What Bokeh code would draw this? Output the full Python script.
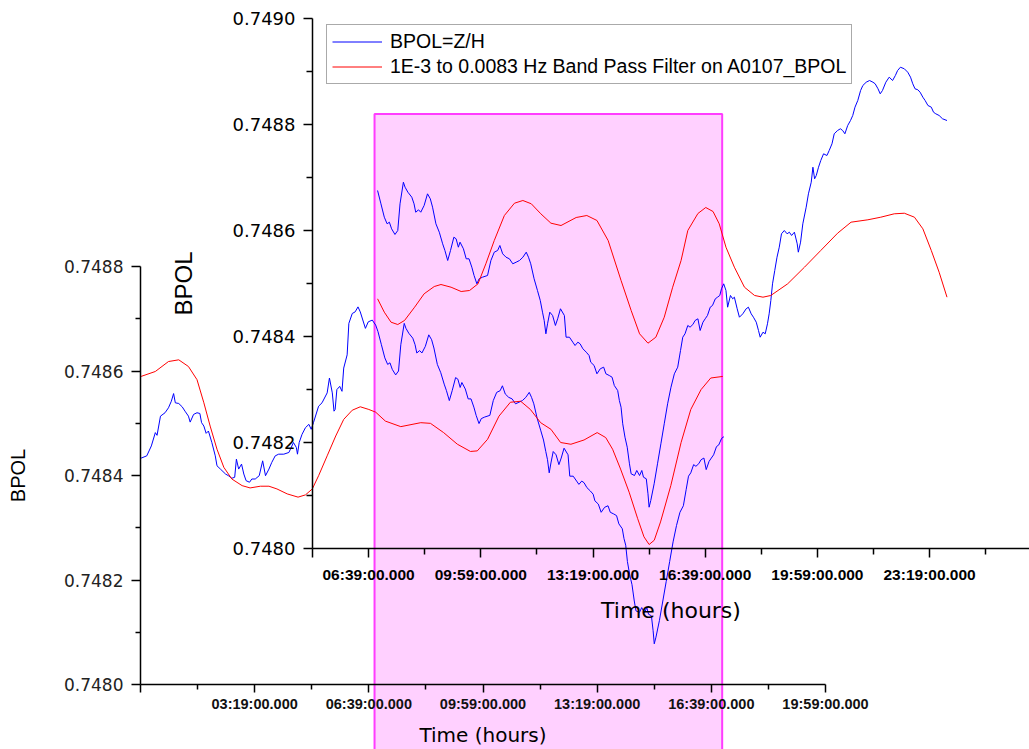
from bokeh.plotting import figure
from bokeh.models import (Range1d, FixedTicker, PrintfTickFormatter, BoxAnnotation,
                          Legend, LegendItem, GridBox)
from bokeh.embed import file_html
from bokeh.resources import INLINE

# ---------------- data (time in minutes, BPOL values) ----------------
blue_time = [0, 10, 18, 25, 28, 34, 42, 48, 53, 57, 60, 66, 72, 77, 83, 86, 92, 98, 103, 106,
             110, 114, 118, 124, 130, 133, 139, 148, 153, 159, 164, 167, 171, 176, 180, 184, 190, 194, 200, 207,
             213, 218, 224, 229, 235, 241, 250, 259, 267, 272, 274, 277, 282, 288, 294, 298, 302, 311, 317, 326,
             330, 335, 338, 340, 343, 348, 352, 355, 361, 364, 370, 375, 380, 384, 393, 398, 405, 411,
             415, 421, 427, 432, 436, 440, 446, 451, 455, 461, 464, 469, 476, 480, 483, 488, 492, 498,
             504, 509, 513, 519, 525, 531, 535, 540, 545, 551, 555, 559, 562, 568, 573, 578, 583, 587,
             592, 596, 602, 611, 617, 623, 629, 633, 638, 644, 650, 656, 662, 668, 674, 680, 684, 688,
             694, 700, 705, 709, 712, 715, 718, 722, 727, 732, 736, 741, 748, 751, 757, 763, 767, 772,
             776, 781, 787, 792, 795, 801, 806, 812, 818, 822, 828, 833, 837, 843, 846, 849, 852, 856,
             860, 864, 867, 873, 877, 882, 886, 889, 894, 897, 899, 902, 908, 914, 920, 926, 932, 938,
             944, 950, 955, 959, 963, 968, 972, 977, 981, 986, 990, 995, 999, 1003, 1008, 1012, 1017,
             1021, 1025, 1028, 1032, 1036, 1039, 1044, 1048, 1051, 1056, 1060, 1066, 1072, 1076, 1081,
             1085, 1090, 1094, 1097, 1102, 1106, 1110, 1113, 1116, 1119, 1123, 1127, 1131, 1135, 1140,
             1145, 1149, 1153, 1158, 1163, 1165, 1169, 1173, 1179, 1183, 1188, 1191, 1194, 1197, 1201,
             1205, 1210, 1216, 1220, 1225, 1229, 1235, 1240, 1244, 1248, 1253, 1258, 1262, 1266, 1271,
             1276, 1280, 1286, 1292, 1298, 1302, 1307, 1311, 1315, 1321, 1327, 1333, 1338, 1342, 1347,
             1354, 1360, 1365, 1369, 1373, 1378, 1382, 1387, 1391, 1396, 1402, 1406, 1410, 1416, 1422,
             1430]
blue_value = [0.7484332, 0.7484376, 0.7484566, 0.7484821, 0.7484769, 0.7485136, 0.7485201, 0.7485296,
              0.7485421, 0.7485568, 0.7485391, 0.7485378, 0.7485315, 0.7485231, 0.7485136, 0.7485022,
              0.7485169, 0.7485201, 0.7485187, 0.7485011, 0.7484946, 0.7484807, 0.7484851, 0.7484631,
              0.7484376, 0.7484186, 0.7484123, 0.7484028, 0.7483996, 0.7483947, 0.7483966, 0.7484313,
              0.7484123, 0.7484218, 0.7484028, 0.7483901, 0.7483871, 0.7483933, 0.7483933, 0.7483996,
              0.7484281, 0.7483996, 0.7484123, 0.7484251, 0.7484376, 0.7484408, 0.7484408, 0.7484441,
              0.7484631, 0.7484536, 0.7484408, 0.7484631, 0.7484788, 0.7484916, 0.7484979, 0.7484884,
              0.7485011, 0.7485326, 0.7485391, 0.7485581, 0.7485866, 0.7485581, 0.7485231, 0.7485264,
              0.7485644, 0.7485706, 0.7485611, 0.7486056, 0.7486309, 0.7486911, 0.7487101, 0.7487131,
              0.7487227, 0.7487131, 0.7486816, 0.7486941, 0.7486974, 0.7486879,
              0.7486755, 0.7486503, 0.7486251, 0.7486126, 0.7486157, 0.7486032, 0.7485925, 0.7486000,
              0.7486503, 0.7486911, 0.7486817, 0.7486723, 0.7486628, 0.7486503, 0.7486345, 0.7486390,
              0.7486345, 0.7486472, 0.7486692, 0.7486598, 0.7486440, 0.7486126, 0.7485968, 0.7485749,
              0.7485623, 0.7485434, 0.7485623, 0.7485874, 0.7485843, 0.7485685, 0.7485780, 0.7485655,
              0.7485466, 0.7485466, 0.7485308, 0.7485151, 0.7484994, 0.7485089, 0.7485119, 0.7485151,
              0.7485434, 0.7485591, 0.7485623, 0.7485717, 0.7485560, 0.7485496, 0.7485466, 0.7485372,
              0.7485402, 0.7485434, 0.7485496, 0.7485591, 0.7485496, 0.7485372, 0.7485089, 0.7484868,
              0.7484679, 0.7484459, 0.7484302, 0.7484051, 0.7484240, 0.7484459, 0.7484396, 0.7484208,
              0.7484334, 0.7484523, 0.7484396, 0.7483987, 0.7483987, 0.7483893, 0.7483830, 0.7483893,
              0.7483862, 0.7483768, 0.7483704, 0.7483642, 0.7483515, 0.7483453, 0.7483296, 0.7483391,
              0.7483421, 0.7483296, 0.7483264, 0.7483232, 0.7483075, 0.7482981, 0.7482792, 0.7482666,
              0.7482353, 0.7482100, 0.7481911, 0.7481598, 0.7481409, 0.7481377, 0.7481472, 0.7481377,
              0.7481472, 0.7481345, 0.7481315, 0.7481032, 0.7480779, 0.7480906, 0.7481221, 0.7481598,
              0.7481975, 0.7482353, 0.7482730, 0.7483043, 0.7483296, 0.7483421, 0.7483736, 0.7483987,
              0.7484051, 0.7484208, 0.7484176, 0.7484226, 0.7484302, 0.7484334, 0.7484113, 0.7484270,
              0.7484334, 0.7484396, 0.7484553, 0.7484585, 0.7484711, 0.7484742, 0.7484774, 0.7484900,
              0.7484994, 0.7484868, 0.7484553, 0.7484774, 0.7484711, 0.7484742, 0.7484523, 0.7484364,
              0.7484428, 0.7484523, 0.7484553, 0.7484428, 0.7484364, 0.7484270, 0.7484113, 0.7483987,
              0.7484081, 0.7484051, 0.7484240, 0.7484428, 0.7484679, 0.7484994, 0.7485245, 0.7485496,
              0.7485685, 0.7485938, 0.7486000, 0.7485938, 0.7485968, 0.7485906, 0.7485968, 0.7485749,
              0.7485591, 0.7485780, 0.7486126, 0.7486440, 0.7486692, 0.7486911, 0.7487194, 0.7486975,
              0.7487038, 0.7487194, 0.7487321, 0.7487447, 0.7487415, 0.7487509, 0.7487636, 0.7487825,
              0.7487887, 0.7487919, 0.7487887, 0.7487825, 0.7487981, 0.7488075, 0.7488170, 0.7488327,
              0.7488453, 0.7488642, 0.7488736, 0.7488798, 0.7488830, 0.7488798, 0.7488768, 0.7488674,
              0.7488579, 0.7488642, 0.7488798, 0.7488893, 0.7488830, 0.7488925, 0.7489019, 0.7489081,
              0.7489051, 0.7488987, 0.7488893, 0.7488768, 0.7488674, 0.7488655, 0.7488610, 0.7488515,
              0.7488453, 0.7488359, 0.7488327, 0.7488232, 0.7488202, 0.7488170, 0.7488108, 0.7488075]

# band-pass filtered series on the early segment (back plot)
red_back_time = [0, 25, 48, 66, 83, 98, 110, 121, 133, 145, 159, 177, 191, 209, 224, 238, 256, 275,
                 288, 300, 311, 326, 341, 355, 370, 384, 399, 411, 428, 455, 490, 507, 530, 554, 577,
                 589, 607, 627, 647, 665, 682, 700, 718, 735, 753, 776, 799, 814, 826, 840, 855, 870,
                 881, 890, 899, 910, 928, 946, 963, 981, 998, 1019]
red_back_value = [0.7485896, 0.7485991, 0.7486181, 0.7486214, 0.7486086, 0.7485834, 0.7485391,
                  0.7484946, 0.7484503, 0.7484156, 0.7483933, 0.7483806, 0.7483762, 0.7483795,
                  0.7483795, 0.7483743, 0.7483648, 0.7483586, 0.7483629, 0.7483743, 0.7483996,
                  0.7484376, 0.7484756, 0.7485074, 0.7485250, 0.7485315, 0.7485264, 0.7485212,
                  0.7485041, 0.7484935, 0.7485011, 0.7484998, 0.7484821, 0.7484599, 0.7484460,
                  0.7484471, 0.7484693, 0.7485136, 0.7485402, 0.7485421, 0.7485264, 0.7485011,
                  0.7484884, 0.7484631, 0.7484598, 0.7484680, 0.7484821, 0.7484726, 0.7484503,
                  0.7484123, 0.7483681, 0.7483173, 0.7482826, 0.7482679, 0.7482761, 0.7483111,
                  0.7483806, 0.7484631, 0.7485264, 0.7485644, 0.7485866, 0.7485896]

# band-pass filtered series on the late segment (front plot)
red_front_time = [415, 427, 439, 451, 463, 481, 498, 516, 528, 546, 564, 579, 594, 608, 623, 641,
                  659, 674, 689, 706, 724, 742, 769, 788, 806, 826, 849, 867, 882, 897, 911, 926,
                  941, 956, 968, 986, 1000, 1013, 1024, 1036, 1051, 1069, 1087, 1102, 1116, 1146,
                  1176, 1205, 1235, 1259, 1289, 1312, 1336, 1354, 1372, 1387, 1402, 1416, 1430]
red_front_value = [0.7484711, 0.7484459, 0.7484270, 0.7484226, 0.7484302, 0.7484553, 0.7484806,
                   0.7484943, 0.7484981, 0.7484930, 0.7484849, 0.7484868, 0.7484994, 0.7485372,
                   0.7485811, 0.7486283, 0.7486515, 0.7486566, 0.7486504, 0.7486315, 0.7486138,
                   0.7486094, 0.7486245, 0.7486283, 0.7486189, 0.7485811, 0.7485057, 0.7484491,
                   0.7484051, 0.7483874, 0.7483987, 0.7484364, 0.7484930, 0.7485434, 0.7486000,
                   0.7486321, 0.7486434, 0.7486358, 0.7486126, 0.7485685, 0.7485308, 0.7484930,
                   0.7484774, 0.7484742, 0.7484774, 0.7484994, 0.7485308, 0.7485623, 0.7485949,
                   0.7486157, 0.7486202, 0.7486251, 0.7486315, 0.7486326, 0.7486251, 0.7486032,
                   0.7485623, 0.7485213, 0.7484742]

BACK_SEGMENT_END = 1022     # last minute shown by the back plot
FRONT_SEGMENT_START = 415   # first minute shown by the front plot
HIGHLIGHT_START = 409       # highlighted window (minutes)
HIGHLIGHT_END = 1018
HIGHLIGHT_TOP = 0.74882

back_x_ticks = [-1, 199, 399, 599, 799, 999, 1199]
back_x_labels = ["", "03:19:00.000", "06:39:00.000", "09:59:00.000", "13:19:00.000",
                 "16:39:00.000", "19:59:00.000"]
back_x_minor = [99, 299, 499, 699, 899, 1099]
front_x_ticks = [299, 399, 599, 799, 999, 1199, 1399]
front_x_labels = ["", "06:39:00.000", "09:59:00.000", "13:19:00.000", "16:39:00.000",
                  "19:59:00.000", "23:19:00.000"]
front_x_minor = [499, 699, 899, 1099, 1299, 1499]
back_y_ticks = [0.7480, 0.7482, 0.7484, 0.7486, 0.7488]
back_y_minor = [0.7481, 0.7483, 0.7485, 0.7487]
front_y_ticks = [0.7480, 0.7482, 0.7484, 0.7486, 0.7488, 0.7490]
front_y_minor = [0.7481, 0.7483, 0.7485, 0.7487, 0.7489]

legend_labels = ["BPOL=Z/H", "1E-3 to 0.0083 Hz Band Pass Filter on A0107_BPOL"]

# ---------------- layout ----------------
W, H = 1029, 749
B_L, B_R, B_T, B_B = 140, 825, 266, 687       # back frame (canvas px)
F_L, F_R, F_T, F_B = 312, 1029, 18, 548       # front frame (canvas px)
FRONT_PX_PER_MIN = 0.561

BLUE = "#0000FF"
RED = "#FF0000"


def base_fig(xr, yr, left, right, top, bottom, transparent=True, axes=True):
    kw = {}
    if not axes:
        kw = dict(x_axis_type=None, y_axis_type=None)
    p = figure(width=W, height=H, x_range=xr, y_range=yr, output_backend="svg",
               toolbar_location=None, min_border_left=left, min_border_right=right,
               min_border_top=top, min_border_bottom=bottom, frame_align=False, **kw)
    p.outline_line_color = None
    if axes:
        p.xgrid.visible = False
        p.ygrid.visible = False
    if transparent:
        p.background_fill_alpha = 0
        p.border_fill_alpha = 0
    else:
        p.background_fill_color = "white"
        p.border_fill_color = "white"
    return p


def style_axis(ax, tick_out, minor_out, standoff, font, size, bold, color):
    ax.axis_line_width = 1.5
    ax.axis_line_color = "black"
    ax.major_tick_line_width = 1.5
    ax.minor_tick_line_width = 1.5
    ax.major_tick_out = tick_out
    ax.major_tick_in = 0
    ax.minor_tick_out = minor_out
    ax.minor_tick_in = 0
    ax.major_label_standoff = standoff
    ax.major_label_text_font = font
    ax.major_label_text_font_size = size
    ax.major_label_text_font_style = "bold" if bold else "normal"
    ax.major_label_text_color = color
    ax.axis_label_text_font_style = "normal"
    ax.axis_label_text_color = "black"


# ---- layer 1: highlight rectangle ----
back_scale = (B_R - B_L) / (back_x_ticks[-1] - back_x_ticks[0])
front_vscale = (F_B - F_T) / (front_y_ticks[-1] - front_y_ticks[0])
r_x = Range1d(back_x_ticks[0] - B_L / back_scale, back_x_ticks[0] + (W - B_L) / back_scale)
r_y = Range1d(front_y_ticks[0] - (H - F_B) / front_vscale, front_y_ticks[-1] + F_T / front_vscale)
pR = base_fig(r_x, r_y, 0, 0, 0, 0, transparent=False, axes=False)
pR.add_layout(BoxAnnotation(left=HIGHLIGHT_START, right=HIGHLIGHT_END, top=HIGHLIGHT_TOP,
                            bottom=r_y.start - 0.0001, fill_color="#FFD0FF", fill_alpha=1.0,
                            line_color="#FF3CFF", line_width=2, line_alpha=1.0))

# ---- layer 2: back plot ----
pB = base_fig(Range1d(back_x_ticks[0], back_x_ticks[-1]), Range1d(back_y_ticks[0], back_y_ticks[-1]),
              B_L, W - B_R, B_T, H - B_B)
bt = [t for t in blue_time if t <= BACK_SEGMENT_END]
bv = [v for t, v in zip(blue_time, blue_value) if t <= BACK_SEGMENT_END]
pB.line(bt, bv, line_color=BLUE, line_width=1)
pB.line(red_back_time, red_back_value, line_color=RED, line_width=1)

xa = pB.xaxis[0]
xa.ticker = FixedTicker(ticks=back_x_ticks, minor_ticks=back_x_minor)
xa.major_label_overrides = dict(zip(back_x_ticks, back_x_labels))
style_axis(xa, 8, 5, 3, "Liberation Sans", "14.5px", True, "#111111")
xa.axis_label = "Time (hours)"
xa.axis_label_text_font = "DejaVu Sans"
xa.axis_label_text_font_size = "20px"
xa.axis_label_standoff = 8

ya = pB.yaxis[0]
ya.ticker = FixedTicker(ticks=back_y_ticks, minor_ticks=back_y_minor)
ya.formatter = PrintfTickFormatter(format="%.4f")
style_axis(ya, 9, 5, 8, "DejaVu Sans", "17px", False, "#222222")
ya.axis_label = "BPOL"
ya.axis_label_text_font = "Liberation Sans"
ya.axis_label_text_font_size = "20px"
ya.axis_label_standoff = 32

# ---- layer 3: front plot ----
f_end = front_x_ticks[0] + (F_R - F_L) / FRONT_PX_PER_MIN
pF = base_fig(Range1d(front_x_ticks[0], f_end), Range1d(front_y_ticks[0], front_y_ticks[-1]),
              F_L, W - F_R, F_T, H - F_B)
ft = [t for t in blue_time if t >= FRONT_SEGMENT_START]
fv = [v for t, v in zip(blue_time, blue_value) if t >= FRONT_SEGMENT_START]
lb = pF.line(ft, fv, line_color=BLUE, line_width=1)
lr = pF.line(red_front_time, red_front_value, line_color=RED, line_width=1)

xf = pF.xaxis[0]
xf.ticker = FixedTicker(ticks=front_x_ticks, minor_ticks=front_x_minor)
xf.major_label_overrides = dict(zip(front_x_ticks, front_x_labels))
style_axis(xf, 9, 6, 8, "Liberation Sans", "15.5px", True, "black")
xf.axis_label = "Time (hours)"
xf.axis_label_text_font = "DejaVu Sans"
xf.axis_label_text_font_size = "22px"
xf.axis_label_standoff = 12

yf = pF.yaxis[0]
yf.ticker = FixedTicker(ticks=front_y_ticks, minor_ticks=front_y_minor)
yf.formatter = PrintfTickFormatter(format="%.4f")
style_axis(yf, 9, 6, 8, "DejaVu Sans", "18px", False, "black")
yf.axis_label = "BPOL"
yf.axis_label_text_font = "Liberation Sans"
yf.axis_label_text_font_size = "24px"
yf.axis_label_standoff = 33

legend = Legend(items=[LegendItem(label=legend_labels[0], renderers=[lb]),
                       LegendItem(label=legend_labels[1], renderers=[lr])],
                location=(14, 464))
legend.margin = 0
legend.padding = 5
legend.spacing = 2
legend.glyph_width = 50
legend.glyph_height = 21
legend.label_height = 21
legend.label_standoff = 8
legend.label_text_font = "Liberation Sans"
legend.label_text_font_size = "19.5px"
legend.label_text_color = "black"
legend.border_line_color = "#555555"
legend.border_line_width = 1.5
legend.background_fill_color = "white"
legend.background_fill_alpha = 1.0
pF.add_layout(legend)

layout = GridBox(children=[(pR, 0, 0), (pB, 0, 0), (pF, 0, 0)])

with open("out.html", "w") as f:
    f.write(file_html(layout, INLINE))
